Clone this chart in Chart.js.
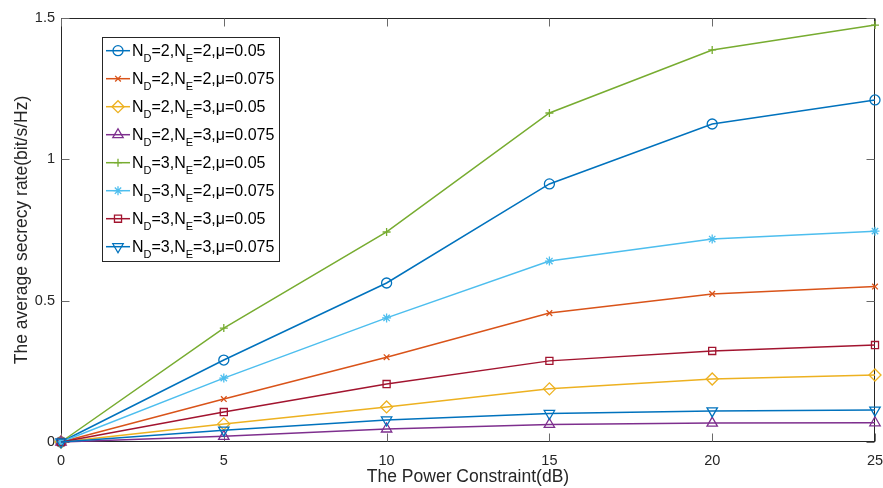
<!DOCTYPE html>
<html>
<head>
<meta charset="utf-8">
<script src="https://cdn.jsdelivr.net/npm/chart.js@4/dist/chart.umd.min.js"></script>
<style>
  html, body { margin: 0; padding: 0; background: #ffffff; }
  #wrap { width: 883px; height: 488px; position: relative; }
</style>
</head>
<body>
<div id="wrap"><canvas id="c" width="883" height="488"></canvas></div>
<script>
// ---- data ----
const powerDb = [0, 5, 10, 15, 20, 25];
const seriesLabels = [
  'N_D=2,N_E=2,μ=0.05',
  'N_D=2,N_E=2,μ=0.075',
  'N_D=2,N_E=3,μ=0.05',
  'N_D=2,N_E=3,μ=0.075',
  'N_D=3,N_E=2,μ=0.05',
  'N_D=3,N_E=2,μ=0.075',
  'N_D=3,N_E=3,μ=0.05',
  'N_D=3,N_E=3,μ=0.075'
];
const nd2ne2mu050 = [0, 0.290, 0.5625, 0.913, 1.125, 1.210];
const nd2ne2mu075 = [0, 0.152, 0.300, 0.456, 0.524, 0.550];
const nd2ne3mu050 = [0, 0.064, 0.124, 0.188, 0.223, 0.237];
const nd2ne3mu075 = [0, 0.020, 0.046, 0.062, 0.067, 0.068];
const nd3ne2mu050 = [0, 0.403, 0.743, 1.164, 1.387, 1.475];
const nd3ne2mu075 = [0, 0.226, 0.439, 0.640, 0.718, 0.746];
const nd3ne3mu050 = [0, 0.106, 0.205, 0.287, 0.322, 0.343];
const nd3ne3mu075 = [0, 0.042, 0.078, 0.101, 0.110, 0.113];
const xTicks = [0, 5, 10, 15, 20, 25];
const yTicks = [0, 0.5, 1, 1.5];

const seriesValues = [nd2ne2mu050, nd2ne2mu075, nd2ne3mu050, nd2ne3mu075,
                      nd3ne2mu050, nd3ne2mu075, nd3ne3mu050, nd3ne3mu075];

// ---- styles ----
const colors = ['#0072BD', '#D95319', '#EDB120', '#7E2F8E', '#77AC30', '#4DBEEE', '#A2142F', '#0072BD'];
const markers = ['circle', 'crossRot', 'rectRot', 'triangle', 'cross', 'star', 'rect', 'triangle'];
const rotations = [0, 0, 0, 0, 0, 0, 0, 180];
const radii = [5, 4, 6, 6, 4, 4.5, 5, 6];
const FONT = '"Liberation Sans", Arial, Helvetica, sans-serif';
const AX = '#262626';

const datasets = seriesValues.map((vals, i) => ({
  label: seriesLabels[i],
  data: powerDb.map((x, k) => ({ x: x, y: vals[k] })),
  borderColor: colors[i],
  backgroundColor: colors[i],
  pointBorderColor: colors[i],
  pointBackgroundColor: 'rgba(0,0,0,0)',
  pointStyle: markers[i],
  pointRotation: rotations[i],
  pointRadius: radii[i],
  pointBorderWidth: 1.3,
  borderWidth: 1.5,
  tension: 0,
  clip: false,
  order: seriesValues.length - i
}));

function drawRich(ctx, text, x, y, mainSize, subSize) {
  let cx = x;
  let i = 0;
  while (i < text.length) {
    const ch = text[i];
    if (ch === '_' && i + 1 < text.length) {
      ctx.font = subSize + 'px ' + FONT;
      ctx.fillText(text[i + 1], cx, y + 6.5);
      cx += ctx.measureText(text[i + 1]).width;
      i += 2;
    } else {
      ctx.font = mainSize + 'px ' + FONT;
      ctx.fillText(ch, cx, y);
      cx += ctx.measureText(ch).width;
      i += 1;
    }
  }
  return cx;
}

const framePlugin = {
  id: 'frame',
  beforeDatasetsDraw(chart) {
    const { ctx, chartArea: a, scales } = chart;
    ctx.save();
    ctx.strokeStyle = AX;
    ctx.lineWidth = 1;
    const L = Math.round(a.left) + 0.5, R = Math.round(a.right) - 0.5;
    const T = Math.round(a.top) + 0.5, B = Math.round(a.bottom) - 0.5;
    ctx.strokeRect(L, T, R - L, B - T);
    ctx.strokeStyle = '#6a6a6a';
    const tl = 8;
    ctx.beginPath();
    scales.x.ticks.forEach(t => {
      const px = Math.round(scales.x.getPixelForValue(t.value)) + 0.5;
      ctx.moveTo(px, B); ctx.lineTo(px, B - tl);
      ctx.moveTo(px, T); ctx.lineTo(px, T + tl);
    });
    scales.y.ticks.forEach(t => {
      const py = Math.round(scales.y.getPixelForValue(t.value)) + 0.5;
      ctx.moveTo(L, py); ctx.lineTo(L + tl, py);
      ctx.moveTo(R, py); ctx.lineTo(R - tl, py);
    });
    ctx.stroke();
    ctx.restore();
  },
  afterDraw(chart) {
    const ctx = chart.ctx;
    const bx = 102, by = 37, bw = 177, bh = 224;
    ctx.save();
    ctx.fillStyle = '#ffffff';
    ctx.fillRect(bx, by, bw, bh);
    ctx.strokeStyle = AX;
    ctx.lineWidth = 1;
    ctx.strokeRect(bx + 0.5, by + 0.5, bw, bh);
    const helpers = Chart.helpers;
    chart.data.datasets.forEach((ds, i) => {
      const cy = 50.7 + i * 28;
      ctx.strokeStyle = ds.borderColor;
      ctx.lineWidth = 1.5;
      ctx.beginPath();
      ctx.moveTo(106, cy); ctx.lineTo(130, cy);
      ctx.stroke();
      if (helpers && helpers.drawPoint) {
        ctx.lineWidth = ds.pointBorderWidth;
        ctx.strokeStyle = ds.pointBorderColor;
        ctx.fillStyle = 'rgba(0,0,0,0)';
        helpers.drawPoint(ctx, {
          pointStyle: ds.pointStyle,
          rotation: ds.pointRotation,
          radius: ds.pointRadius,
          borderWidth: ds.pointBorderWidth
        }, 118, cy);
      }
      ctx.fillStyle = '#000000';
      ctx.textBaseline = 'alphabetic';
      ctx.textAlign = 'left';
      drawRich(ctx, ds.label, 132, cy + 5, 16, 11);
    });
    ctx.restore();
  }
};

new Chart(document.getElementById('c'), {
  type: 'line',
  data: { datasets: datasets },
  plugins: [framePlugin],
  options: {
    responsive: false,
    animation: false,
    devicePixelRatio: 1,
    layout: { padding: { left: 0, right: 8, top: 18, bottom: 0 } },
    plugins: { legend: { display: false }, tooltip: { enabled: false } },
    scales: {
      x: {
        type: 'linear',
        min: xTicks[0],
        max: xTicks[xTicks.length - 1],
        afterBuildTicks: s => { s.ticks = xTicks.map(v => ({ value: v })); },
        afterFit: s => { s.height = 46; s.paddingLeft = 0; s.paddingRight = 0; },
        grid: { display: false, drawTicks: false },
        border: { display: false },
        ticks: {
          color: AX, padding: 10, maxRotation: 0,
          font: { family: FONT, size: 14.5 },
          callback: v => String(v)
        },
        title: {
          display: true, text: 'The Power Constraint(dB)', color: AX,
          font: { family: FONT, size: 17.5 }, padding: { top: 0, bottom: 0 }
        }
      },
      y: {
        type: 'linear',
        min: yTicks[0],
        max: yTicks[yTicks.length - 1],
        afterBuildTicks: s => { s.ticks = yTicks.map(v => ({ value: v })); },
        afterFit: s => { s.width = 61; s.paddingTop = 0; s.paddingBottom = 0; },
        grid: { display: false, drawTicks: false },
        border: { display: false },
        ticks: {
          color: AX, padding: 6,
          font: { family: FONT, size: 14.5 },
          callback: v => String(v)
        },
        title: {
          display: true, text: 'The average secrecy rate(bit/s/Hz)', color: AX,
          font: { family: FONT, size: 17.5 }, padding: { top: 12, bottom: 0 }
        }
      }
    }
  }
});
</script>
</body>
</html>
